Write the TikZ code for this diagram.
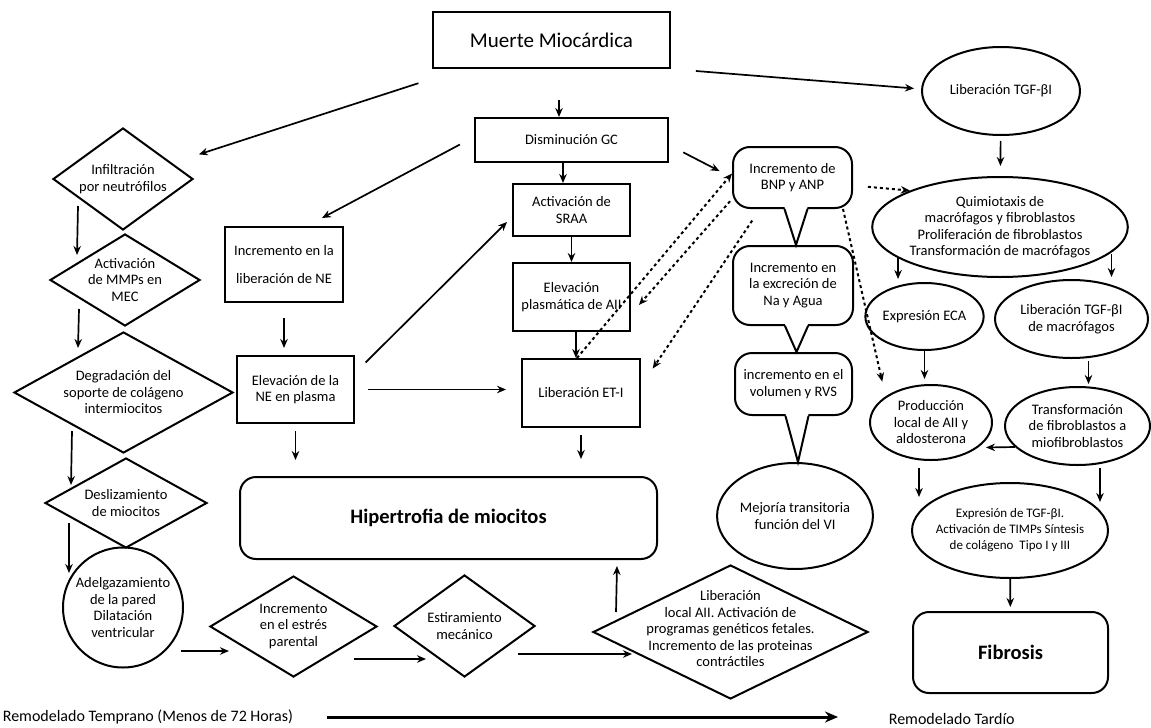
\documentclass[tikz,border=0pt]{standalone}
\usepackage{fontspec}
\setmainfont{Carlito}
\usetikzlibrary{shapes.geometric,arrows.meta,calc}

\begin{document}
\begin{tikzpicture}[x=1pt, y=-1pt, >={Stealth[length=9pt, width=7.5pt]}, line width=1.7pt,
    every node/.style={font=\fontsize{14.5}{16.5}\selectfont, align=center, inner sep=0pt},
    box/.style={draw, line width=2pt},
    roundbox/.style={draw, line width=2pt, rounded corners=16pt},
    bubble/.style={draw, line width=2pt, rounded corners=17pt},
    decision/.style={diamond, draw, line width=2pt},
    oval/.style={ellipse, draw, line width=2pt},
    big/.style={font=\fontsize{21}{24}\selectfont},
    bigbold/.style={font=\fontsize{20.5}{24}\selectfont\bfseries},
    dots/.style={->, line width=2pt, dash pattern=on 3pt off 3pt}]

    \useasboundingbox (0,0) rectangle (1151,728);

    % centre
    \node[box, big, minimum width=237, minimum height=56] (muerte) at (551.5,40) {Muerte Miocárdica};
    \node[box, minimum width=193, minimum height=44] (dism) at (571.5,140) {Disminución GC};
    \node[box, minimum width=117, minimum height=52] (sraa) at (571.5,210) {Activación de\\SRAA};
    \node[box, minimum width=117, minimum height=68] (aii) at (571.5,297) {Elevación\\plasmática de AII};
    \node[box, minimum width=118, minimum height=68] (eti) at (581,393) {Liberación ET-I};
    \node[box, minimum width=118, minimum height=75] (nelib) at (284,264.5) {Incremento en la\\[11pt]liberación de NE};
    \node[box, minimum width=117, minimum height=67] (nepl) at (295.5,389.5) {Elevación de la\\NE en plasma};
    \node[roundbox, bigbold, minimum width=417, minimum height=82] (hip) at (448.5,518) {Hipertrofia de miocitos};

    % left
    \node[decision, aspect=1.37, minimum width=140, minimum height=102] (infil) at (123,179) {Infiltración\\por neutrófilos};
    \node[decision, aspect=1.63, minimum width=150, minimum height=92] (mmp) at (125,280) {Activación\\de MMPs en\\MEC};
    \node[decision, aspect=1.81, minimum width=219, minimum height=121] (degr) at (123.5,392.5) {Degradación del\\soporte de colágeno\\intermiocitos};
    \node[decision, aspect=1.8, minimum width=162, minimum height=90] (desl) at (126,503) {Deslizamiento\\de miocitos};
    \node[circle, draw, line width=2pt, minimum size=120] (adel) at (123,607.5) {Adelgazamiento\\de la pared\\Dilatación\\ventricular};
    \node[decision, aspect=1.65, minimum width=167, minimum height=101] (estres) at (293.5,626.5) {Incremento\\en el estrés\\parental};
    \node[decision, aspect=1.38, minimum width=141, minimum height=102] (estir) at (464.5,626) {Estiramiento\\mecánico};
    \node[decision, aspect=2.05, minimum width=275, minimum height=134] (lib) at (730.5,632) {};
    \node (lib-txt) at ($(lib)+(0,-3)$) {Liberación\\local AII. Activación de\\programas genéticos fetales.\\Incremento de las proteinas\\contráctiles};

    % BNP column
    \node[bubble, minimum width=119, minimum height=61] (bnp) at (792.5,177.5) {Incremento de\\BNP y ANP};
    \node[bubble, minimum width=120, minimum height=79] (exc) at (793,285.5) {Incremento en\\la excreción de\\Na y Agua};
    \node[bubble, minimum width=117, minimum height=62] (vol) at (793.5,384) {incremento en el\\volumen y RVS};
    \node[oval, minimum width=150, minimum height=106] (mej) at (795,516) {Mejoría transitoria\\función del VI};
    \foreach \a/\b in {bnp/exc, exc/vol, vol/mej}{
        \fill[white] ($(\a.south)+(-8,-2)$) -- ($(\b.north)+(3,0)$) -- ($(\a.south)+(15,-2)$) -- cycle;
        \draw[line width=2pt] ($(\a.south)+(-8,0)$) -- ($(\b.north)+(3,0)$) -- ($(\a.south)+(15,0)$);
    }

    % right
    \node[oval, minimum width=158, minimum height=88] (tgf) at (1001,91) {Liberación TGF-βI};
    \node[oval, minimum width=240, minimum height=100] (quimio) at (1000,227) {Quimiotaxis de\\macrófagos y fibroblastos\\Proliferación de fibroblastos\\Transformación de macrófagos};
    \node[oval, minimum width=115, minimum height=67] (eca) at (924.5,316.5) {Expresión ECA};
    \node[oval, minimum width=153, minimum height=78] (libmac) at (1071.5,319) {Liberación TGF-βI\\de macrófagos};
    \node[oval, minimum width=122, minimum height=75] (prod) at (931,422.5) {Producción\\local de AII y\\aldosterona};
    \node[oval, minimum width=145, minimum height=78] (trans) at (1077.5,426) {Transformación\\de fibroblastos a\\miofibroblastos};
    \node[oval, minimum width=196, minimum height=95] (expr) at (1010,530.5) {};
    \node[font=\fontsize{13}{16}\selectfont] (expr-txt) at (expr) {Expresión de TGF-βI.\\Activación de TIMPs Síntesis\\de colágeno\ \ Tipo I y III};
    \node[roundbox, bigbold, minimum width=195, minimum height=81] (fib) at (1010.5,652.5) {Fibrosis};

    % bottom
    \node[anchor=west, font=\fontsize{16}{19}\selectfont] (temprano) at (2,717) {Remodelado Temprano (Menos de 72 Horas)};
    \node[anchor=west, font=\fontsize{16}{19}\selectfont] (tardio) at (888,719) {Remodelado Tardío};
    \draw[-{Stealth[length=13pt, width=11pt]}, line width=3pt, shorten <=33pt, shorten >=50pt] (temprano.east) -- (temprano.east -| tardio.west);

    % arrows centre
    \draw[->, shorten <=31pt] ($(muerte.south)+(7.5,0)$) -- ($(dism.north)+(-12.5,0)$);
    \draw[->, shorten <=46pt, shorten >=28pt] (muerte) -- (infil);
    \draw[->, shorten <=25pt, shorten >=7pt] (muerte.south east) -- ($(tgf.west)+(0,-2)$);
    \draw[->, shorten <=16pt, shorten >=17pt] ($(dism.west)+(0,-3)$) -- ($(nelib.north)+(23,0)$);
    \draw[->] ($(dism.south)+(-8.5,0)$) -- ($(sraa.north)+(-8.5,0)$);
    \draw[->] (sraa) -- (aii);
    \draw[->] ($(aii.south)+(4.5,0)$) -- ($(eti.north)+(-5,0)$);
    \draw[->, shorten <=7pt, shorten >=17pt] (eti.south) -- (eti.south |- hip.north);
    \draw[->, shorten <=15pt, shorten >=7pt] (nelib.south) -- (nelib.south |- nepl.north);
    \draw[->, shorten <=7pt, shorten >=16pt] (nepl.south) -- (nepl.south |- hip.north);
    \draw[->, shorten <=13pt, shorten >=15pt] (nepl.east) -- (nepl.east -| eti.west);
    \draw[->, shorten <=15pt, shorten >=7pt] ($(nepl.north east)+(0,18)$) -- ($(sraa.west)+(0,7)$);
    \draw[->, shorten <=16pt, shorten >=14pt] ($(dism.east)+(0,5)$) -- (bnp.west);

    % dotted
    \draw[dots] ($(eti.north)+(-4,0)$) -- ($(bnp.west)+(0,-4)$);
    \draw[dots, shorten <=3pt, shorten >=12pt] ($(bnp.west)+(0,21.5)$) -- ($(aii.east)+(0,17)$);
    \draw[dots, shorten <=14pt, shorten >=21pt] ($(bnp.south)+(-32.5,0)$) -- ($(eti.east)+(0,-7)$);
    \draw[dots, shorten <=15pt] ($(bnp.east)+(0,8)$) -- (quimio.158);
    \draw[dots, shorten >=15pt] ($(bnp.south east)+(-10,0)$) -- (prod.150);

    % arrows right
    \draw[->, shorten <=5pt, shorten >=10pt] (tgf) -- (quimio);
    \draw[->, shorten >=3pt] (quimio.197) -- (quimio.197 |- eca.north);
    \draw[->] ($(libmac.north)+(40,-25)$) -- ($(libmac.north)+(40,-2)$);
    \draw[->, shorten >=5pt] (eca.south) -- ($(prod.north)+(-6.5,0)$);
    \draw[->] ($(libmac.south)+(17,2)$) -- ($(trans.north)+(11,-2)$);
    \draw[->] ($(trans.west)+(11,21)$) -- ($(prod.east)+(-7,25)$);
    \draw[->] ($(prod.south)+(-12,7)$) -- ($(expr.north)+(-91,15)$);
    \draw[->] ($(trans.south)+(22.5,2)$) -- ($(expr.north)+(90,20)$);
    \draw[->, shorten >=4pt] (expr) -- (fib);

    % arrows left
    \draw[->] ($(infil.south)+(-45,-25)$) -- ($(mmp.west)+(28,-25)$);
    \draw[->] ($(mmp.south)+(-46,-18)$) -- ($(degr.west)+(65,-44.5)$);
    \draw[->] ($(degr.south)+(-51.5,-23)$) -- ($(desl.west)+(27,-18)$);
    \draw[->] ($(desl.west)+(25,20)$) -- ($(adel.west)+(7,-34.5)$);
    \draw[->] ($(adel.east)+(-3,43.5)$) -- ($(estres.west)+(20,24.5)$);
    \draw[->] ($(estres.east)+(-24,32.5)$) -- ($(estir.west)+(33,33)$);
    \draw[->] ($(estir.east)+(-18,28)$) -- ($(lib.west)+(40,22)$);
    \draw[->] ($(lib.west)+(24,-20)$) -- ($(hip.south)+(168.5,6)$);

\end{tikzpicture}
\end{document}
